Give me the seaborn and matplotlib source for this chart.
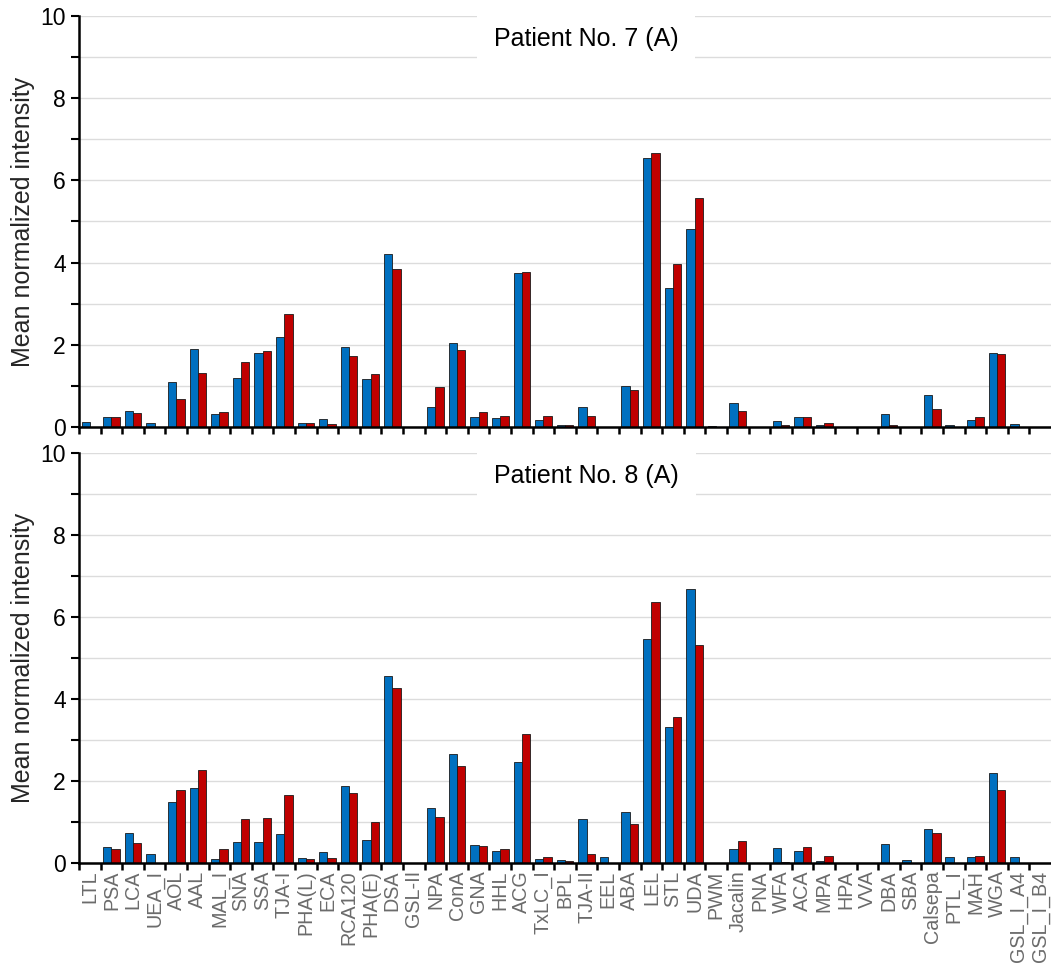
import numpy as np
import pandas as pd
import matplotlib
matplotlib.use("Agg")
import matplotlib.pyplot as plt
from matplotlib.ticker import MultipleLocator, FixedLocator
import seaborn as sns

# Lectin names (x axis)
lectins = ["LTL", "PSA", "LCA", "UEA_I", "AOL", "AAL", "MAL_I", "SNA", "SSA", "TJA-I",
           "PHA(L)", "ECA", "RCA120", "PHA(E)", "DSA", "GSL-II", "NPA", "ConA", "GNA", "HHL",
           "ACG", "TxLC_I", "BPL", "TJA-II", "EEL", "ABA", "LEL", "STL", "UDA", "PWM",
           "Jacalin", "PNA", "WFA", "ACA", "MPA", "HPA", "VVA", "DBA", "SBA", "Calsepa",
           "PTL_I", "MAH", "WGA", "GSL_I_A4", "GSL_I_B4"]

# Patient No. 7 (A), series 1 (blue) and series 2 (red)
p7_blue = [0.13, 0.25, 0.40, 0.09, 1.09, 1.89, 0.31, 1.20, 1.79, 2.18,
           0.11, 0.19, 1.95, 1.18, 4.20, 0.00, 0.48, 2.04, 0.24, 0.21,
           3.75, 0.16, 0.06, 0.48, 0.00, 1.00, 6.55, 3.39, 4.81, 0.02,
           0.58, 0.00, 0.14, 0.24, 0.06, 0.00, 0.00, 0.32, 0.00, 0.79,
           0.04, 0.17, 1.79, 0.08, 0.00]
p7_red = [0.00, 0.25, 0.35, 0.00, 0.69, 1.32, 0.36, 1.58, 1.84, 2.75,
          0.11, 0.07, 1.74, 1.28, 3.84, 0.00, 0.97, 1.87, 0.36, 0.26,
          3.78, 0.26, 0.04, 0.26, 0.00, 0.89, 6.66, 3.97, 5.57, 0.00,
          0.39, 0.00, 0.04, 0.24, 0.11, 0.00, 0.00, 0.04, 0.00, 0.45,
          0.00, 0.24, 1.77, 0.00, 0.00]

# Patient No. 8 (A)
p8_blue = [0.02, 0.40, 0.74, 0.23, 1.49, 1.83, 0.10, 0.51, 0.51, 0.72,
           0.12, 0.28, 1.89, 0.56, 4.58, 0.02, 1.34, 2.66, 0.45, 0.30,
           2.47, 0.10, 0.08, 1.08, 0.15, 1.26, 5.46, 3.32, 6.69, 0.02,
           0.34, 0.00, 0.38, 0.30, 0.06, 0.00, 0.00, 0.46, 0.08, 0.84,
           0.15, 0.16, 2.20, 0.15, 0.00]
p8_red = [0.00, 0.34, 0.49, 0.02, 1.78, 2.28, 0.36, 1.08, 1.11, 1.66,
          0.10, 0.12, 1.71, 1.02, 4.28, 0.00, 1.13, 2.37, 0.42, 0.36,
          3.15, 0.15, 0.05, 0.23, 0.00, 0.97, 6.37, 3.56, 5.33, 0.00,
          0.54, 0.00, 0.04, 0.41, 0.19, 0.00, 0.00, 0.00, 0.00, 0.74,
          0.00, 0.19, 1.80, 0.00, 0.00]

panels = [("Patient No. 7 (A)", p7_blue, p7_red),
          ("Patient No. 8 (A)", p8_blue, p8_red)]

sns.set_style("white")
plt.rcParams["font.family"] = ["Liberation Sans", "DejaVu Sans"]

fig = plt.figure(figsize=(10.51, 9.67), dpi=100)
ax_top = fig.add_axes([0.0752, 0.5584, 0.9248, 0.4251])
ax_bot = fig.add_axes([0.0752, 0.1072, 0.9248, 0.4240])

n = len(lectins)
for ax, (title, blue, red) in zip([ax_top, ax_bot], panels):
    df = pd.DataFrame({
        "lectin": lectins * 2,
        "series": ["a"] * n + ["b"] * n,
        "value": blue + red,
    })
    sns.barplot(data=df, x="lectin", y="value", hue="series", ax=ax,
                palette=["#0070C0", "#C00000"], saturation=1, width=0.77,
                edgecolor="#1a1a1a", linewidth=0.6, legend=False)
    ax.set_xlim(-0.5, n - 0.5)
    ax.set_ylim(0, 10)
    ax.set_axisbelow(True)
    ax.yaxis.set_major_locator(MultipleLocator(2))
    ax.yaxis.set_minor_locator(MultipleLocator(1))
    ax.grid(True, axis="y", which="both", color="#dcdcdc", linewidth=1)
    ax.grid(False, axis="x")
    for s in ["top", "right"]:
        ax.spines[s].set_visible(False)
    for s in ["left", "bottom"]:
        ax.spines[s].set_color("black")
        ax.spines[s].set_linewidth(1.8)
    ax.tick_params(axis="y", which="both", direction="out", length=6, width=1.5,
                   color="black", labelsize=16.5, labelcolor="black", left=True)
    # x: labels at centres, tick marks at category boundaries
    ax.set_xticks(np.arange(n))
    ax.xaxis.set_minor_locator(FixedLocator(np.arange(n) - 0.5))
    ax.tick_params(axis="x", which="major", length=0, pad=5)
    ax.tick_params(axis="x", which="minor", direction="out", length=5, width=1.8,
                   color="black", bottom=True)
    ax.set_xlabel("")
    ax.set_ylabel("Mean normalized intensity", fontsize=18, labelpad=4)
    ax.text(0.522, 0.944, title, transform=ax.transAxes, ha="center", va="center",
            fontsize=18, color="black",
            bbox=dict(facecolor="white", edgecolor="none", pad=12), zorder=5)

ax_top.set_xticklabels([])
ax_bot.set_xticklabels(lectins, rotation=90, fontsize=14.2, color="#6b6b6b")

fig.savefig("out.png", dpi=100)
